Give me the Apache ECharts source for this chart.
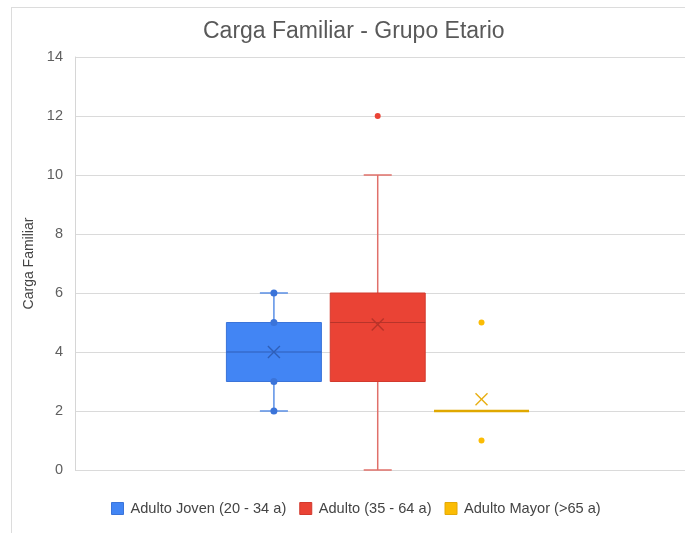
<!DOCTYPE html>
<html>
<head>
<meta charset="utf-8">
<script src="https://cdn.jsdelivr.net/npm/echarts@6/dist/echarts.min.js"></script>
<style>
  html, body { margin: 0; padding: 0; background: #fff; }
  #wrap { position: relative; width: 685px; height: 533px; overflow: hidden; }
  #frame { position: absolute; left: 11px; top: 7px; width: 700px; height: 560px;
           border-top: 1px solid #dcdcdc; border-left: 1px solid #dcdcdc; }
  #chart { position: absolute; left: 0; top: 0; width: 685px; height: 533px; }
</style>
</head>
<body>
<div id="wrap"><div id="frame"></div><div id="chart"></div></div>
<script>
// Age groups shown along the horizontal direction
const categories = ['Adulto Joven (20 - 34 a)', 'Adulto (35 - 64 a)', 'Adulto Mayor (>65 a)'];
// Five-number summaries: min, Q1, median, Q3, max
const jovenStats = [2, 3, 4, 5, 6];
const adultoStats = [0, 3, 5, 6, 10];
const mayorStats = [2, 2, 2, 2, 2];
// Group means (drawn as an "x")
const means = [4, 4.93, 2.4];
// Individual points drawn as dots (inner points / outliers)
const jovenPoints = [2, 3, 5, 6];
const adultoPoints = [12];
const mayorPoints = [1, 5];
// Vertical axis ticks
const yTicks = [0, 2, 4, 6, 8, 10, 12, 14];

const FONT = 'Liberation Sans, Arial, sans-serif';
const palette = [
  { fill: '#4285F4', edge: '#3B74D9', median: '#2F5FB8', whisker: '#5A8FE6', mean: '#2F5FB8' },
  { fill: '#EA4335', edge: '#D23A2E', median: '#B8342A', whisker: '#E0706A', mean: '#B8342A' },
  { fill: '#FBBC04', edge: '#E3A908', median: '#E0A800', whisker: '#E3A908', mean: '#E8AE10' }
];
const statsList = [jovenStats, adultoStats, mayorStats];
const pointsList = [jovenPoints, adultoPoints, mayorPoints];

const BOX_FRAC = 0.915;  // box width as a share of one slot
const CAP_FRAC = 0.27;   // whisker cap width as a share of one slot
const MEAN_HALF = 6;     // half-size of the mean marker, px

function makeRender(c) {
  return function (params, api) {
    const x = api.value(0);
    const s = [1, 2, 3, 4, 5].map(i => api.value(i));
    const mean = api.value(6);
    const unit = api.size([1, 0])[0];
    const half = unit * BOX_FRAC / 2;
    const cap = unit * CAP_FRAC / 2;
    const p = s.map(v => api.coord([x, v]));
    const cx = p[0][0];
    const m = api.coord([x, mean]);
    const wStyle = { stroke: c.whisker, lineWidth: 1.5 };
    const children = [
      { type: 'line', shape: { x1: cx, y1: p[0][1], x2: cx, y2: p[1][1] }, style: wStyle },
      { type: 'line', shape: { x1: cx, y1: p[3][1], x2: cx, y2: p[4][1] }, style: wStyle },
      { type: 'line', shape: { x1: cx - cap, y1: p[0][1], x2: cx + cap, y2: p[0][1] }, style: wStyle },
      { type: 'line', shape: { x1: cx - cap, y1: p[4][1], x2: cx + cap, y2: p[4][1] }, style: wStyle },
      { type: 'rect', shape: { x: cx - half, y: p[3][1], width: half * 2, height: p[1][1] - p[3][1] },
        style: { fill: c.fill, stroke: c.edge, lineWidth: 1 } },
      { type: 'line', shape: { x1: cx - half, y1: p[2][1], x2: cx + half, y2: p[2][1] },
        style: { stroke: c.median, lineWidth: s[1] === s[3] ? 2.5 : 1.2 } },
      { type: 'line', shape: { x1: m[0] - MEAN_HALF, y1: m[1] - MEAN_HALF, x2: m[0] + MEAN_HALF, y2: m[1] + MEAN_HALF },
        style: { stroke: c.mean, lineWidth: 1.4 } },
      { type: 'line', shape: { x1: m[0] - MEAN_HALF, y1: m[1] + MEAN_HALF, x2: m[0] + MEAN_HALF, y2: m[1] - MEAN_HALF },
        style: { stroke: c.mean, lineWidth: 1.4 } }
    ];
    return { type: 'group', children: children };
  };
}

const series = [];
categories.forEach((name, i) => {
  const pos = i + 1;
  series.push({
    name: name,
    type: 'custom',
    renderItem: makeRender(palette[i]),
    itemStyle: { color: palette[i].fill, borderColor: palette[i].edge, borderWidth: 1 },
    encode: { x: 0, y: [1, 2, 3, 4, 5, 6] },
    data: [[pos].concat(statsList[i], [means[i]])],
    z: 2
  });
  series.push({
    name: name,
    type: 'scatter',
    symbol: 'circle',
    symbolSize: i === 0 ? 7 : 6,
    itemStyle: { color: i === 0 ? palette[i].edge : palette[i].fill, opacity: 1 },
    data: pointsList[i].map(v => [pos, v]),
    z: 3
  });
});

const chart = echarts.init(document.getElementById('chart'), null, { renderer: 'canvas' });
chart.setOption({
  animation: false,
  backgroundColor: 'transparent',
  title: {
    text: 'Carga Familiar - Grupo Etario',
    left: 198,
    top: 15,
    textStyle: { fontFamily: FONT, fontSize: 23, fontWeight: 'normal', color: '#595959' }
  },
  legend: {
    data: categories.map((n, i) => ({ name: n, itemStyle: { color: palette[i].fill, borderColor: palette[i].edge, borderWidth: 1 } })),
    left: 106,
    top: 496,
    icon: 'rect',
    itemWidth: 12,
    itemHeight: 12,
    itemGap: 13,
    textStyle: { fontFamily: FONT, fontSize: 14.6, color: '#444444', padding: [0, 0, 0, 2] }
  },
  grid: { left: 75, right: 0, top: 57, bottom: 63, containLabel: false },
  xAxis: {
    type: 'value',
    min: -0.916,
    max: 4.96,
    show: false
  },
  yAxis: {
    type: 'value',
    min: yTicks[0],
    max: yTicks[yTicks.length - 1],
    interval: yTicks[1] - yTicks[0],
    name: 'Carga Familiar',
    nameLocation: 'middle',
    nameGap: 37,
    nameRotate: 90,
    nameTextStyle: { fontFamily: FONT, fontSize: 14, color: '#444444' },
    axisLine: { show: true, onZero: false, lineStyle: { color: '#d6d6d6', width: 1 } },
    axisTick: { show: false },
    axisLabel: { fontFamily: FONT, fontSize: 14.5, color: '#5f5f5f', margin: 12 },
    splitLine: { show: true, lineStyle: { color: '#dadada', width: 1 } }
  },
  series: series
});
</script>
</body>
</html>
